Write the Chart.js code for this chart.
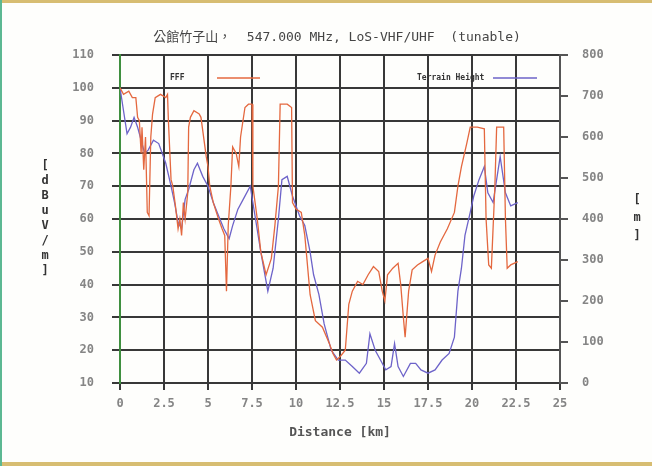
<!DOCTYPE html>
<html>
<head>
<meta charset="utf-8">
<script src="https://cdn.jsdelivr.net/npm/chart.js@4/dist/chart.umd.min.js"></script>
<style>
  html, body { margin: 0; padding: 0; background: #fff; }
  #wrap { position: relative; width: 652px; height: 466px; overflow: hidden; background: #fefefc; }
  #wrap .top { position: absolute; left: 0; top: 0; width: 652px; height: 3px; background: #d7bd72; }
  #wrap .bottom { position: absolute; left: 0; top: 462px; width: 652px; height: 4px; background: #d7bd72; }
  #wrap .left { position: absolute; left: 0; top: 0; width: 2px; height: 466px; background: #5cb892; }
  canvas { position: absolute; left: 0; top: 0; }
</style>
</head>
<body>
<div id="wrap">
  <canvas id="profileChart" width="652" height="466"></canvas>
  <div class="top"></div><div class="bottom"></div><div class="left"></div>
</div>
<script>
const chartTitle = '公館竹子山，  547.000 MHz, LoS-VHF/UHF  (tunable)';
const fieldLabel = 'FFF';
const terrainLabel = 'Terrain Height';

// field strength [dBuV/m] vs distance [km]
const fieldKm = [0, 0.2, 0.5, 0.7, 0.9, 1.0, 1.1, 1.2, 1.25, 1.35, 1.45, 1.55, 1.65, 1.75, 1.85, 2.0, 2.3, 2.6, 2.7, 2.75,
  2.9, 3.0, 3.15, 3.3, 3.4, 3.5, 3.6, 3.7, 3.85, 3.9, 4.0, 4.2, 4.5, 4.6, 4.9, 5.0, 5.1, 5.3, 5.6, 5.8,
  5.95, 6.05, 6.15, 6.3, 6.4, 6.6, 6.75, 6.85, 7.1, 7.3, 7.5, 7.55, 7.8, 8.0, 8.3, 8.6, 8.8, 9.0, 9.1, 9.5,
  9.75, 9.8, 10.0, 10.3, 10.5, 10.8, 11.1, 11.5, 11.9, 12.1, 12.3, 12.5, 12.8, 13.0, 13.2, 13.5, 13.8, 14.1, 14.4, 14.7,
  14.9, 15.05, 15.2, 15.5, 15.8, 15.95, 16.1, 16.2, 16.4, 16.6, 16.9, 17.2, 17.5, 17.7, 17.9, 18.2, 18.6, 19.0, 19.2, 19.4,
  19.7, 19.9, 20.3, 20.7, 20.8, 20.95, 21.1, 21.3, 21.4, 21.8, 21.9, 22.0, 22.2, 22.6];
const fieldDb = [100, 98, 99, 97, 97, 91, 90, 80, 88, 75, 85, 62, 61, 85, 92, 97, 98, 97, 98, 90,
  72, 70, 64, 57, 60, 55, 65, 60, 68, 88, 91, 93, 92, 91, 79, 76, 70, 65, 60, 57,
  55, 38, 58, 70, 82, 80, 76, 85, 94, 95, 95, 70, 60, 50, 43, 48, 58, 70, 95, 95,
  94, 65, 63, 62, 55, 37, 29, 27, 22, 19, 17, 18, 20, 34, 38, 41, 40, 43, 45.5, 44,
  38, 35, 43, 45, 46.5, 40, 30, 24, 38, 44.5, 46, 47, 48, 44, 49, 53, 57, 62, 70, 76,
  83, 88, 88, 87.5, 60, 46, 45, 70, 88, 88, 60, 45, 46, 47];

// terrain height [m] vs distance [km]
const terrainKm = [0, 0.2, 0.4, 0.6, 0.8, 1.0, 1.2, 1.4, 1.6, 1.9, 2.2, 2.6, 2.9, 3.1, 3.3, 3.5, 3.7, 3.9, 4.2, 4.4,
  4.7, 5.0, 5.3, 5.6, 5.9, 6.2, 6.4, 6.7, 7.0, 7.4, 7.7, 8.0, 8.4, 8.7, 9.0, 9.2, 9.5, 9.8, 10.2, 10.5,
  10.8, 11.0, 11.3, 11.6, 12.0, 12.4, 12.8, 13.2, 13.6, 14.0, 14.2, 14.5, 14.8, 15.1, 15.4, 15.6, 15.8, 16.1, 16.5, 16.8,
  17.1, 17.5, 17.9, 18.3, 18.7, 19.0, 19.2, 19.4, 19.6, 19.9, 20.1, 20.4, 20.7, 20.9, 21.2, 21.6, 21.9, 22.2, 22.6];
const terrainM = [720, 664, 608, 624, 648, 624, 592, 560, 568, 592, 584, 536, 480, 440, 392, 376, 448, 472, 520, 536,
  504, 480, 440, 408, 376, 352, 384, 424, 448, 480, 400, 320, 224, 280, 400, 496, 504, 456, 408, 384,
  320, 264, 216, 144, 80, 56, 56, 40, 24, 48, 120, 80, 56, 32, 40, 96, 40, 16, 48, 48,
  32, 24, 32, 56, 72, 112, 224, 280, 360, 416, 456, 496, 528, 464, 440, 552, 464, 432, 440];

const tickFont = { family: '"DejaVu Sans Mono", monospace', size: 12, weight: 'bold' };
const tickColor = '#858585';
const gridDark = '#383838';

const fieldPoints = fieldKm.map((x, i) => ({ x: x, y: fieldDb[i] }));
const terrainPoints = terrainKm.map((x, i) => ({ x: x, y: terrainM[i] }));

const textOverlay = {
  id: 'textOverlay',
  afterDraw(chart) {
    const ctx = chart.ctx;
    ctx.save();
    ctx.fillStyle = '#454545';
    ctx.textBaseline = 'middle';
    ctx.textAlign = 'center';
    ctx.font = '13px "DejaVu Sans Mono", "Noto Sans CJK TC", monospace';
    ctx.fillText(chartTitle, 337, 38);

    // stacked axis titles
    ctx.fillStyle = '#333';
    ctx.font = 'bold 12px "DejaVu Sans Mono", monospace';
    '[dBuV/m]'.split('').forEach((c, i) => ctx.fillText(c, 45, 166 + i * 15));
    '[m]'.split('').forEach((c, i) => ctx.fillText(c, 637, 200 + i * 18));

    ctx.fillStyle = '#555';
    ctx.font = 'bold 13px "DejaVu Sans Mono", monospace';
    ctx.fillText('Distance [km]', 340, 433);

    // legend inside plot
    ctx.fillStyle = '#333';
    ctx.font = 'bold 8px "DejaVu Sans Mono", monospace';
    ctx.textAlign = 'left';
    ctx.fillText(fieldLabel, 170, 78);
    ctx.fillText(terrainLabel, 417, 78);
    ctx.lineWidth = 1.3;
    ctx.strokeStyle = '#e4683f';
    ctx.beginPath(); ctx.moveTo(217, 78); ctx.lineTo(260, 78); ctx.stroke();
    ctx.strokeStyle = '#6d63c9';
    ctx.beginPath(); ctx.moveTo(493, 78); ctx.lineTo(537, 78); ctx.stroke();
    ctx.restore();
  }
};

new Chart(document.getElementById('profileChart'), {
  type: 'line',
  data: {
    datasets: [
      {
        label: fieldLabel,
        data: fieldPoints,
        borderColor: '#e4683f',
        borderWidth: 1.3,
        pointRadius: 0,
        tension: 0,
        yAxisID: 'y',
        order: 1
      },
      {
        label: terrainLabel,
        data: terrainPoints,
        borderColor: '#6d63c9',
        borderWidth: 1.3,
        pointRadius: 0,
        tension: 0,
        yAxisID: 'y2',
        order: 2
      }
    ]
  },
  options: {
    responsive: false,
    animation: false,
    layout: { padding: { top: 55, left: 0, right: 0, bottom: 0 } },
    plugins: {
      legend: { display: false },
      title: { display: false },
      tooltip: { enabled: false }
    },
    scales: {
      x: {
        type: 'linear',
        min: 0,
        max: 25,
        ticks: { stepSize: 2.5, color: tickColor, font: tickFont, padding: 7, maxRotation: 0 },
        grid: { color: gridDark, lineWidth: 2, tickLength: 7 },
        border: { color: gridDark, width: 2 },
        afterFit(scale) { scale.height = 83; }
      },
      y: {
        position: 'left',
        min: 10,
        max: 110,
        ticks: { stepSize: 10, color: tickColor, font: tickFont, padding: 18 },
        grid: { color: gridDark, lineWidth: 2, tickLength: 8 },
        border: { color: '#3f8f3f', width: 2 },
        afterFit(scale) { scale.width = 120; }
      },
      y2: {
        position: 'right',
        min: 0,
        max: 800,
        ticks: { stepSize: 100, color: tickColor, font: tickFont, padding: 14 },
        grid: { drawOnChartArea: false, color: '#555', lineWidth: 2, tickLength: 8 },
        border: { color: '#555', width: 2 },
        afterFit(scale) { scale.width = 92; }
      }
    }
  },
  plugins: [textOverlay]
});
</script>
</body>
</html>
